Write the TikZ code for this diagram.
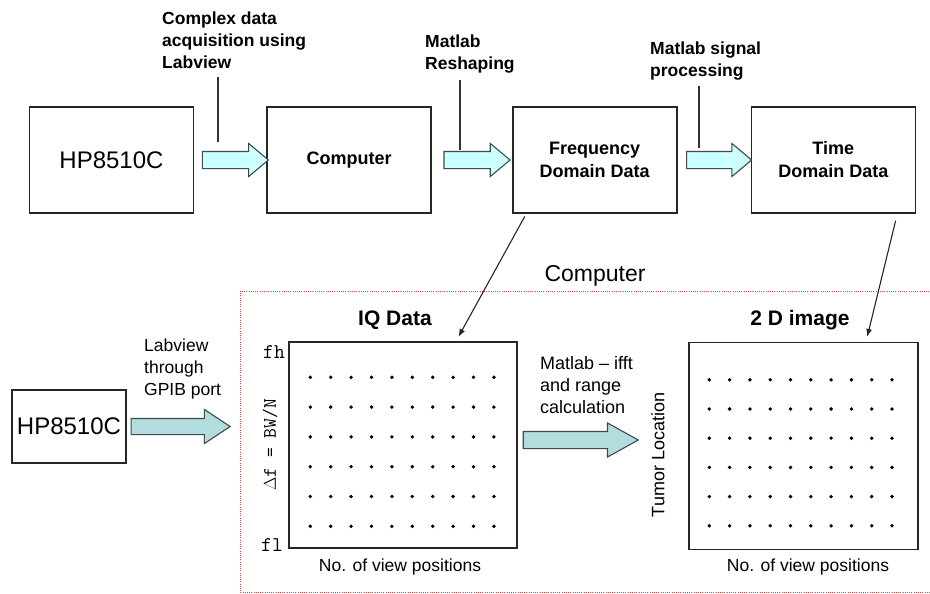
\documentclass[tikz,border=0pt]{standalone}
\usepackage{fontspec}
\setmainfont{Liberation Sans}
\usetikzlibrary{positioning,arrows.meta,shapes.arrows,calc}
\definecolor{ArrowCyan}{RGB}{204,255,255}
\definecolor{ArrowTeal}{RGB}{178,220,222}
\definecolor{ArrowEdge}{RGB}{62,74,76}
\definecolor{ZoneRed}{RGB}{228,70,70}

\begin{document}
\begin{tikzpicture}[x=1pt, y=-1pt,
    stage/.style={rectangle, draw=black!85, line width=1.6pt, minimum width=164pt,
        minimum height=106pt, align=center, font=\fontsize{18}{23}\selectfont\bfseries},
    fatarr/.style={single arrow, draw=ArrowEdge, line width=1.1pt, fill=ArrowCyan,
        inner xsep=0pt, inner ysep=8pt, single arrow head extend=8pt,
        single arrow tip angle=80, minimum height=66pt},
    note/.style={inner sep=0pt, align=left, font=\fontsize{17.5}{22}\selectfont\bfseries},
    plain/.style={inner sep=0pt, align=left, font=\fontsize{17.5}{22}\selectfont},
    grid/.style={rectangle, draw=black!85, line width=1.4pt},
    callout/.style={line width=1.1pt, black!80},
    ptr/.style={-{Latex[length=8pt, width=6pt]}, line width=1.1pt, black!85},
]
\useasboundingbox (0,0) rectangle (930,594);

% acquisition chain
\node[stage, font=\fontsize{24}{28}\selectfont] (hp) at (111.5,160) {HP8510C};
\node[stage, right=72pt of hp] (comp) {Computer};
\node[stage, right=80pt of comp] (freq) {Frequency\\Domain Data};
\node[stage, right=73pt of freq] (time) {Time\\Domain Data};

\path (hp) -- node[fatarr] {} (comp);
\path (comp) -- node[fatarr] {} (freq);
\path (freq) -- node[fatarr, minimum height=65pt] {} (time);

% step labels with their pointers
\node[note, anchor=north west] (lblacq) at (162,12) {Complex data\\acquisition using\\Labview};
\node[note, anchor=north west] (lblshape) at (425,35) {Matlab\\Reshaping};
\node[note, anchor=north west] (lblsig) at (650,42) {Matlab signal\\processing};
\coordinate (acqend) at (218,142);
\coordinate (shapeend) at (460,150);
\coordinate (sigend) at (699,148);
\draw[callout] (lblacq.south -| acqend) ++(0,8) -- (acqend);
\draw[callout] (lblshape.south -| shapeend) ++(0,6) -- (shapeend);
\draw[callout] (lblsig.south -| sigend) ++(0,5) -- (sigend);

% processing on the computer
\draw[ZoneRed, line width=0.9pt, dash pattern=on 1pt off 1.2pt] (240,291) rectangle (936,592);
\node[font=\fontsize{23}{27}\selectfont] (zonelbl) at (595,276) {Computer};

\node[stage, line width=1.2pt, minimum width=114pt, minimum height=73pt,
    font=\fontsize{24}{28}\selectfont] (hp2) at (69,426.5) {HP8510C};
\node[grid, minimum width=228pt, minimum height=206pt] (iq) at (403,445) {};
\node[grid, minimum width=229pt, minimum height=207pt] (img) at (803.5,446) {};

\foreach \i in {0,...,9}
  \foreach \j in {0,...,5}
    \fill ($(iq.north west)+(22+20.4*\i,36+29.8*\j)$) circle (1.9pt);
\foreach \i in {0,...,9}
  \foreach \j in {0,...,5}
    \fill ($(img.north west)+(21+20.3*\i,38+29.2*\j)$) circle (1.9pt);

\node[font=\fontsize{21}{25}\selectfont\bfseries] (iqtitle) at (395,320) {IQ Data};
\node[font=\fontsize{21}{25}\selectfont\bfseries] (imgtitle) at (800,320) {2 D image};
\node[plain] (iqaxis) at (400,567) {No. of view positions};
\node[plain] (imgaxis) at (808,567) {No. of view positions};
\node[font=\ttfamily\fontsize{21}{25}\selectfont] (fhigh) at (274,352) {fh};
\node[font=\ttfamily\fontsize{21}{25}\selectfont] (flow) at (272,545) {fl};
\node[rotate=90, font=\ttfamily\fontsize{19}{22}\selectfont] (df) at (270,445) {$\Delta$f = BW/N};
\node[rotate=90, font=\fontsize{18}{22}\selectfont] (tumor) at (658,455) {Tumor Location};

\node[plain, anchor=north west] (lblgpib) at (144,339) {Labview\\through\\GPIB port};
\node[plain, anchor=north west, font=\fontsize{18}{22}\selectfont] (lblifft) at (540,356)
    {Matlab – ifft\\and range\\calculation};

\path (hp2.east) -- node[fatarr, fill=ArrowTeal, pos=0, anchor=tail, xshift=4pt,
    minimum height=99pt, inner ysep=7.5pt, single arrow head extend=9pt,
    single arrow tip angle=67] {} (hp2.east -| iq.west);
\path (iq.east) -- node[fatarr, fill=ArrowTeal, pos=0, anchor=tail, xshift=5pt, yshift=5pt,
    minimum height=115pt, inner ysep=8pt, single arrow head extend=8.5pt,
    single arrow tip angle=58] {} (iq.east -| img.west);

% data hand-over to the computer side
\draw[ptr, shorten <=3pt, shorten >=5pt] ([xshift=-68.5pt]freq.south) -- ([xshift=53pt]iq.north);
\draw[ptr, shorten <=7pt, shorten >=5pt] ([xshift=64pt]time.south) -- ([xshift=62.5pt]img.north);
\end{tikzpicture}
\end{document}
